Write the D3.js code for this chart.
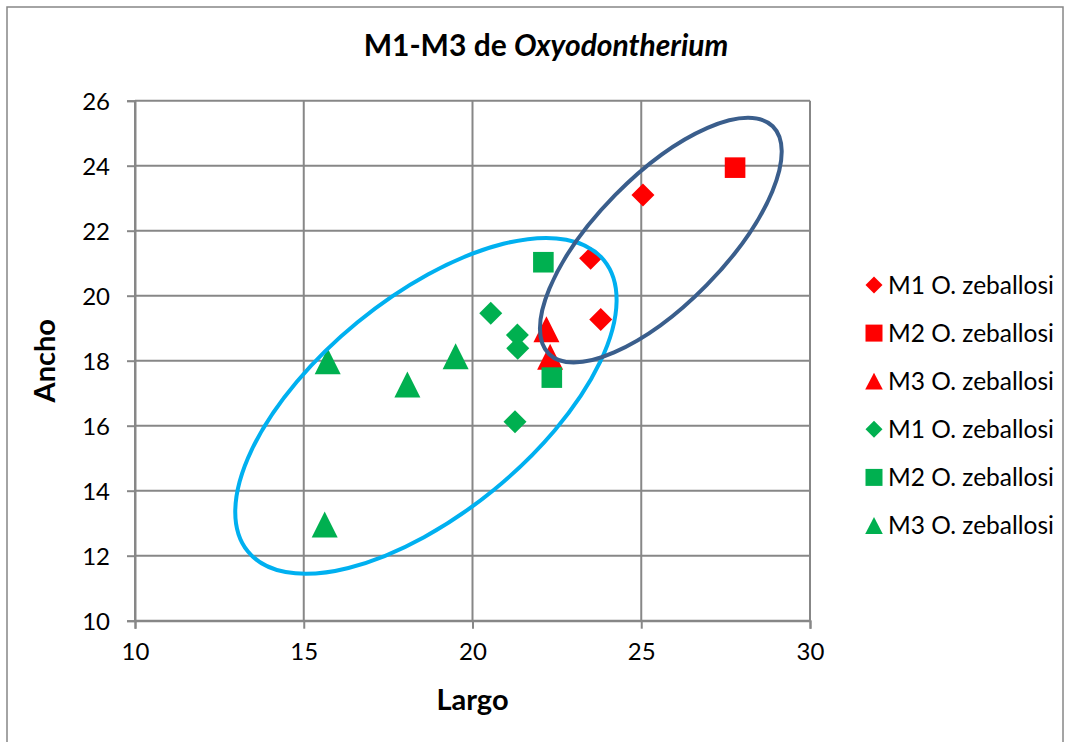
<!DOCTYPE html>
<html>
<head>
<meta charset="utf-8">
<script src="https://cdn.jsdelivr.net/npm/d3@7"></script>
<style>
    body { margin: 0; background: #fff; }
    svg { display: block; }
</style>
</head>
<body>
<svg id="chart" width="1068" height="742"></svg>
<script>
// values (Largo, Ancho)
const seriesNames = [
    'M1 O. zeballosi',
    'M2 O. zeballosi',
    'M3 O. zeballosi',
    'M1 O. zeballosi',
    'M2 O. zeballosi',
    'M3 O. zeballosi',
];
const redM1 = [[25.05, 23.1], [23.5, 21.15], [23.8, 19.27]];
const redM2 = [[27.78, 23.94]];
const redM3 = [[22.19, 18.97], [22.3, 18.12]];
const greenM1 = [[20.54, 19.46], [21.33, 18.79], [21.34, 18.38], [21.26, 16.12]];
const greenM2 = [[22.1, 21.03], [22.35, 17.48]];
const greenM3 = [[15.71, 17.98], [18.07, 17.27], [19.5, 18.14], [15.62, 12.96]];
const xTicks = [10, 15, 20, 25, 30];
const yTicks = [10, 12, 14, 16, 18, 20, 22, 24, 26];
// hand drawn ellipses, centre in data units
const ellipseCentres = [[18.62, 16.61], [25.58, 21.71]];

const RED = '#ff0000';
const GREEN = '#00b050';
const GRID = '#878787';
const FONT = 'Lato, "Noto Sans", sans-serif';

const series = [
    { name: seriesNames[0], values: redM1, color: RED, shape: 'diamond' },
    { name: seriesNames[1], values: redM2, color: RED, shape: 'square' },
    { name: seriesNames[2], values: redM3, color: RED, shape: 'triangle' },
    { name: seriesNames[3], values: greenM1, color: GREEN, shape: 'diamond' },
    { name: seriesNames[4], values: greenM2, color: GREEN, shape: 'square' },
    { name: seriesNames[5], values: greenM3, color: GREEN, shape: 'triangle' },
];

function markerPath(shape, big) {
    if (shape === 'diamond') {
        const s = big ? 11.5 : 8.5;
        return `M0,${-s}L${s},0L0,${s}L${-s},0Z`;
    }
    if (shape === 'square') {
        const s = big ? 10.3 : 8.5;
        return `M${-s},${-s}H${s}V${s}H${-s}Z`;
    }
    const w = big ? 13 : 8.8;
    const h = big ? 13 : 8.4;
    return `M0,${-h}L${w},${h}L${-w},${h}Z`;
}

function renderChart() {
    const margin = { left: 135, top: 100.7 };
    const width = 675;
    const height = 520;

    const svg = d3.select('#chart').style('font-family', FONT);

    // chart frame
    svg.append('rect')
        .attr('x', 7)
        .attr('y', 7)
        .attr('width', 1056)
        .attr('height', 760)
        .attr('fill', '#fff')
        .attr('stroke', GRID)
        .attr('stroke-width', 1.5);

    const x = d3.scaleLinear().domain([10, 30]).range([margin.left, margin.left + width]);
    const y = d3.scaleLinear().domain([10, 26]).range([margin.top + height, margin.top]);

    const grid = svg.append('g').attr('stroke', GRID).attr('stroke-width', 2);
    grid.selectAll('.gx')
        .data(xTicks)
        .enter()
        .append('line')
        .attr('x1', (d) => x(d))
        .attr('x2', (d) => x(d))
        .attr('y1', y(26))
        .attr('y2', y(10));
    grid.selectAll('.gy')
        .data(yTicks)
        .enter()
        .append('line')
        .attr('x1', x(10))
        .attr('x2', x(30))
        .attr('y1', (d) => y(d))
        .attr('y2', (d) => y(d));

    const xAxis = svg
        .append('g')
        .attr('transform', `translate(0,${y(10)})`)
        .call(d3.axisBottom(x).tickValues(xTicks).tickSize(8).tickPadding(14));
    const yAxis = svg
        .append('g')
        .attr('transform', `translate(${x(10)},0)`)
        .call(d3.axisLeft(y).tickValues(yTicks).tickSize(8).tickPadding(17));

    [xAxis, yAxis].forEach((g) => {
        g.select('.domain').attr('stroke', GRID).attr('stroke-width', 2);
        g.selectAll('.tick line').attr('stroke', GRID).attr('stroke-width', 2);
        g.selectAll('.tick text')
            .attr('fill', '#000')
            .style('font-family', FONT)
            .style('font-size', '24px');
    });
    yAxis.selectAll('.tick text').attr('dy', '0.36em');

    // points
    series.forEach((s) => {
        svg.append('g')
            .selectAll('path')
            .data(s.values)
            .enter()
            .append('path')
            .attr('d', markerPath(s.shape, true))
            .attr('fill', s.color)
            .attr('transform', (d) => `translate(${x(d[0])},${y(d[1])})`);
    });

    // ellipses drawn over the points
    const ellipseStyle = [
        { rx: 230, ry: 108, angle: -39.3, color: '#00b0f0' },
        { rx: 159.6, ry: 64.2, angle: -45.5, color: '#3a5e8c' },
    ];
    svg.append('g')
        .selectAll('ellipse')
        .data(ellipseCentres)
        .enter()
        .append('ellipse')
        .attr('cx', 0)
        .attr('cy', 0)
        .attr('rx', (d, i) => ellipseStyle[i].rx)
        .attr('ry', (d, i) => ellipseStyle[i].ry)
        .attr('fill', 'none')
        .attr('stroke', (d, i) => ellipseStyle[i].color)
        .attr('stroke-width', 4)
        .attr('transform', (d, i) => `translate(${x(d[0])},${y(d[1])}) rotate(${ellipseStyle[i].angle})`);

    // legend
    const legend = svg
        .append('g')
        .selectAll('g')
        .data(series)
        .enter()
        .append('g')
        .attr('transform', (d, i) => `translate(874,${285 + i * 48.1})`);
    legend.append('path')
        .attr('d', (d) => markerPath(d.shape, false))
        .attr('fill', (d) => d.color);
    legend.append('text')
        .attr('x', 14)
        .attr('dy', '0.36em')
        .style('font-size', '24.5px')
        .text((d) => d.name);

    // titles
    const title = svg
        .append('text')
        .attr('x', 546)
        .attr('y', 56)
        .attr('text-anchor', 'middle')
        .style('font-size', '30px')
        .style('font-weight', 'bold');
    title.append('tspan').text('M1-M3 de ');
    title.append('tspan').style('font-style', 'italic').text('Oxyodontherium');

    svg.append('text')
        .attr('x', x(20))
        .attr('y', 710)
        .attr('text-anchor', 'middle')
        .style('font-size', '29px')
        .style('font-weight', 'bold')
        .text('Largo');

    svg.append('text')
        .attr('transform', `translate(55,${y(18)}) rotate(-90)`)
        .attr('text-anchor', 'middle')
        .style('font-size', '29px')
        .style('font-weight', 'bold')
        .text('Ancho');
}

renderChart();
</script>
</body>
</html>
